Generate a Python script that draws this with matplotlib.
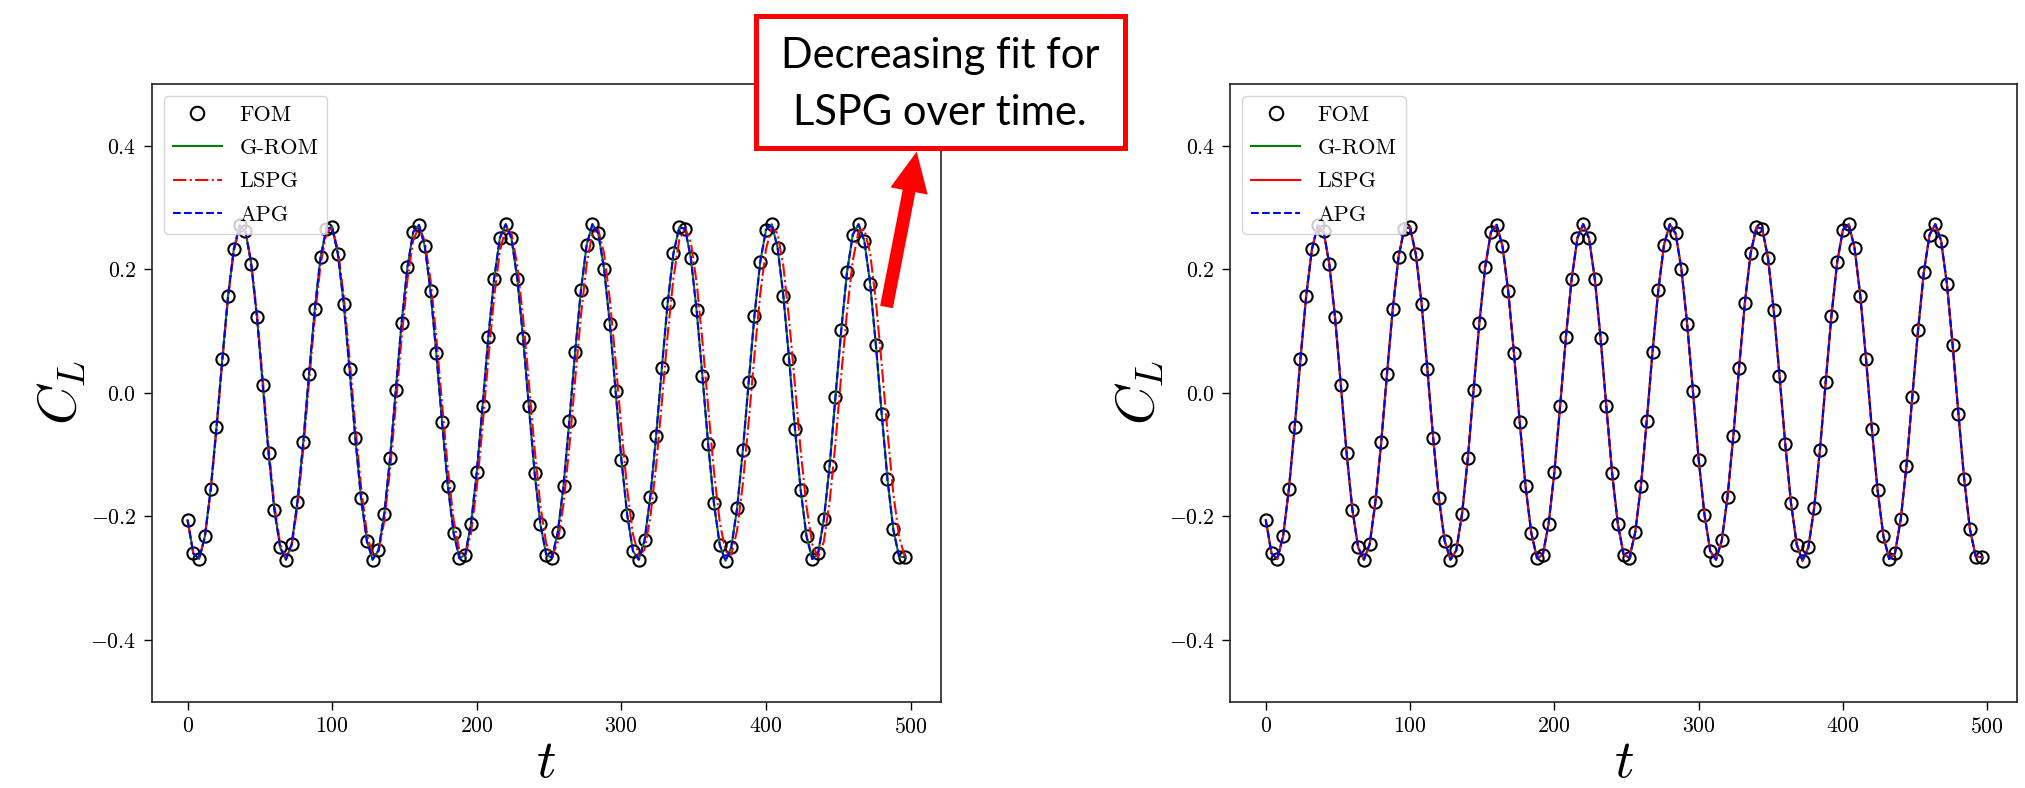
import numpy as np
import matplotlib
matplotlib.use("Agg")
import matplotlib.pyplot as plt
from matplotlib.patches import Rectangle, FancyArrow
from matplotlib.transforms import IdentityTransform

plt.rcParams["mathtext.fontset"] = "cm"
plt.rcParams["font.family"] = ["cmr10", "DejaVu Serif"]
plt.rcParams["axes.formatter.use_mathtext"] = True

# sampled time instants of the lift-coefficient history
t = np.arange(0, 500, 4)

# full-order model lift coefficient
cl_fom = [
    -0.206, -0.260, -0.269, -0.232, -0.156, -0.056, 0.054, 0.157, 0.233, 0.271,
    0.262, 0.209, 0.122, 0.013, -0.097, -0.189, -0.250, -0.270, -0.245, -0.176,
    -0.080, 0.031, 0.136, 0.220, 0.266, 0.268, 0.224, 0.144, 0.038, -0.073,
    -0.171, -0.240, -0.270, -0.255, -0.196, -0.106, 0.005, 0.113, 0.203, 0.260,
    0.272, 0.238, 0.165, 0.064, -0.048, -0.151, -0.227, -0.268, -0.262, -0.212,
    -0.128, -0.021, 0.091, 0.185, 0.251, 0.273, 0.250, 0.185, 0.089, -0.022,
    -0.130, -0.213, -0.262, -0.267, -0.226, -0.150, -0.045, 0.066, 0.166, 0.240,
    0.273, 0.258, 0.201, 0.112, 0.003, -0.108, -0.197, -0.256, -0.270, -0.239,
    -0.168, -0.070, 0.041, 0.146, 0.226, 0.268, 0.266, 0.219, 0.134, 0.028,
    -0.083, -0.179, -0.246, -0.272, -0.250, -0.187, -0.093, 0.017, 0.125, 0.212,
    0.264, 0.273, 0.235, 0.157, 0.054, -0.058, -0.158, -0.232, -0.269, -0.260,
    -0.205, -0.118, -0.007, 0.101, 0.195, 0.256, 0.273, 0.246, 0.177, 0.077,
    -0.034, -0.140, -0.221, -0.265, -0.266,
]

# Galerkin ROM and APG follow the FOM closely
cl_grom = list(cl_fom)
cl_apg = list(cl_fom)

# LSPG (left panel): gradually lagging behind the FOM
cl_lspg_lag = [
    -0.206, -0.260, -0.269, -0.233, -0.158, -0.059, 0.050, 0.153, 0.229, 0.269,
    0.263, 0.212, 0.128, 0.022, -0.088, -0.181, -0.244, -0.268, -0.248, -0.184,
    -0.092, 0.017, 0.122, 0.208, 0.259, 0.268, 0.231, 0.157, 0.056, -0.054,
    -0.153, -0.227, -0.264, -0.258, -0.208, -0.125, -0.019, 0.089, 0.182, 0.247,
    0.269, 0.246, 0.183, 0.090, -0.018, -0.123, -0.206, -0.256, -0.264, -0.227,
    -0.153, -0.054, 0.056, 0.155, 0.230, 0.266, 0.258, 0.207, 0.122, 0.017,
    -0.091, -0.183, -0.244, -0.265, -0.242, -0.180, -0.087, 0.021, 0.125, 0.209,
    0.259, 0.264, 0.226, 0.151, 0.051, -0.058, -0.156, -0.229, -0.263, -0.254,
    -0.202, -0.118, -0.014, 0.094, 0.186, 0.247, 0.267, 0.244, 0.179, 0.085,
    -0.023, -0.127, -0.209, -0.257, -0.262, -0.223, -0.147, -0.047, 0.061, 0.160,
    0.233, 0.268, 0.258, 0.205, 0.118, 0.013, -0.094, -0.184, -0.245, -0.266,
    -0.241, -0.176, -0.082, 0.028, 0.131, 0.214, 0.261, 0.265, 0.226, 0.148,
    0.046, -0.063, -0.162, -0.233, -0.265,
]

# LSPG (right panel): matches the FOM
cl_lspg_fit = list(cl_fom)

xtick_vals = [0, 100, 200, 300, 400, 500]
xtick_labels = [r"$0$", r"$100$", r"$200$", r"$300$", r"$400$", r"$500$"]
ytick_vals = [-0.4, -0.2, 0.0, 0.2, 0.4]
ytick_labels = [r"$-0.4$", r"$-0.2$", r"$0.0$", r"$0.2$", r"$0.4$"]

W, H = 2025, 788
fig = plt.figure(figsize=(W / 100, H / 100), dpi=100)
ax_bottom = (H - 701.7) / H
ax_height = 617.7 / H
ax1 = fig.add_axes([151.7 / W, ax_bottom, 789.0 / W, ax_height])
ax2 = fig.add_axes([1230.0 / W, ax_bottom, 787.3 / W, ax_height])

tick_fs = 15.7
legend_fs = 16
label_fs = 39


def draw_panel(ax, lspg_vals, lspg_style):
    ax.plot(t, cl_fom, linestyle="none", marker="o", ms=8.8, mfc="none",
            mec="black", mew=1.5, label="FOM")
    ax.plot(t, cl_grom, color="green", lw=1.5, ls="-", label="G-ROM")
    ax.plot(t, lspg_vals, color="red", lw=1.5, ls=lspg_style, label="LSPG")
    ax.plot(t, cl_apg, color="blue", lw=1.5, ls="--", label="APG")
    ax.set_ylim(-0.5, 0.5)
    ax.set_xticks(xtick_vals)
    ax.set_xticklabels(xtick_labels)
    ax.set_yticks(ytick_vals)
    ax.set_yticklabels(ytick_labels)
    ax.tick_params(direction="out", length=5.5, width=1.0, labelsize=tick_fs,
                   pad=5.5, colors="black")
    for sp in ax.spines.values():
        sp.set_linewidth(1.2)
        sp.set_color("#222222")
    ax.set_xlabel(r"$t$", fontsize=label_fs, va="center")
    ax.xaxis.set_label_coords(0.5, -0.100)
    ax.set_ylabel(r"$C_L$", fontsize=label_fs, va="center")
    ax.yaxis.set_label_coords(-0.114, 0.5)
    ax.legend(loc="upper left", fontsize=legend_fs, handlelength=2.2,
              borderaxespad=0.55, labelspacing=0.62, markerscale=1.1)


draw_panel(ax1, cl_lspg_lag, "-.")
draw_panel(ax2, cl_lspg_fit, "-")

# callout box and arrow (pixel coordinates)
px = IdentityTransform()
box = Rectangle((755.5, H - 147.5), 369.0, 132.0, transform=px,
                facecolor="white", edgecolor="#ff0000", linewidth=3.6,
                joinstyle="miter", zorder=10)
fig.add_artist(box)
callout_font = dict(ha="center", va="baseline", fontsize=30,
                    family=["Lato", "DejaVu Sans"], color="black", zorder=11)
fig.text(940 / W, (H - 68.3) / H, "Decreasing fit for", **callout_font)
fig.text(940 / W, (H - 125.0) / H, "LSPG over time.", **callout_font)
arrow = FancyArrow(886.5, H - 307.0, 30.2, 155.3, width=13, head_width=38,
                   head_length=40, length_includes_head=True, transform=px,
                   facecolor="#ff0000", edgecolor="none", zorder=10)
fig.add_artist(arrow)

fig.savefig("out.png", dpi=100)
